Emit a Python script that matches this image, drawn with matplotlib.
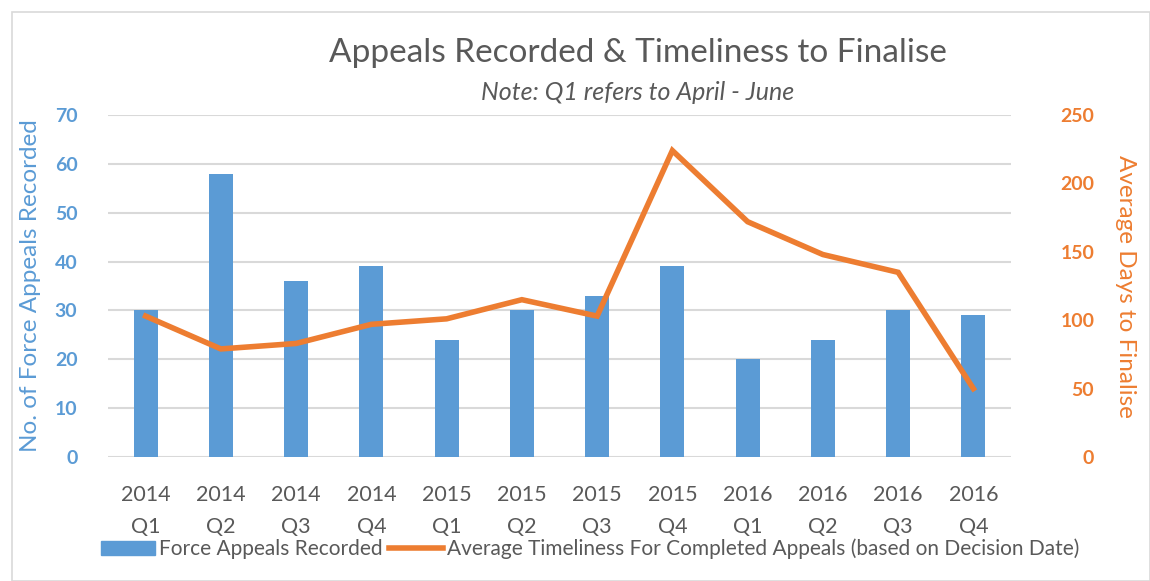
import matplotlib
matplotlib.use("Agg")
import matplotlib.pyplot as plt
from matplotlib.patches import Rectangle
from matplotlib.lines import Line2D
import numpy as np

plt.rcParams['font.family'] = ['Lato', 'DejaVu Sans']

categories = ["2014\nQ1", "2014\nQ2", "2014\nQ3", "2014\nQ4",
              "2015\nQ1", "2015\nQ2", "2015\nQ3", "2015\nQ4",
              "2016\nQ1", "2016\nQ2", "2016\nQ3", "2016\nQ4"]
appeals = [30, 58, 36, 39, 24, 30, 33, 39, 20, 24, 30, 29]
timeliness = [103, 79, 83, 97, 101, 115, 103, 224, 172, 148, 135, 50]

BLUE = "#5B9BD5"
ORANGE = "#ED7D31"
GRAY = "#595959"
GRID = "#D9D9D9"

fig = plt.figure(figsize=(11.5, 5.81), dpi=100)
W, H = 1150, 581
ax = fig.add_axes([108 / W, 1 - 457 / H, (1011 - 108) / W, (457 - 115) / H])

# outer border
fig.patches.append(Rectangle((12 / W, 0), (W - 12) / W, 1 - 12 / H, transform=fig.transFigure,
                             fill=False, edgecolor="#D9D9D9", linewidth=1.2))

x = np.arange(len(categories))
ax.bar(x, appeals, width=0.32, color=BLUE, zorder=2)
ax.set_xlim(-0.5, len(categories) - 0.5)
ax.set_ylim(0, 70)
ax.set_yticks(range(0, 71, 10))
ax.yaxis.grid(True, color=GRID, linewidth=1.5, zorder=0)
ax.set_axisbelow(True)
for s in ax.spines.values():
    s.set_visible(False)
ax.tick_params(axis='both', length=0)
ax.tick_params(axis='y', labelcolor=BLUE, labelsize=14, pad=22)
for t in ax.get_yticklabels():
    t.set_fontweight('bold')
ax.set_xticks(x)
ax.set_xticklabels(categories, color=GRAY, fontsize=15.5, linespacing=1.75)
ax.tick_params(axis='x', pad=20)
ax.set_ylabel("No. of Force Appeals Recorded", color=BLUE, fontsize=17.5, labelpad=10)

ax2 = ax.twinx()
ax2.plot(x, timeliness, color=ORANGE, linewidth=4, solid_joinstyle='miter', zorder=3)
ax2.set_ylim(0, 250)
ax2.set_yticks(range(0, 251, 50))
for s in ax2.spines.values():
    s.set_visible(False)
ax2.tick_params(axis='y', length=0, labelcolor=ORANGE, labelsize=14, pad=60)
for t in ax2.get_yticklabels():
    t.set_fontweight('bold')
    t.set_horizontalalignment('right')
ax2.set_ylabel("Average Days to Finalise", color=ORANGE, fontsize=17.5, rotation=270, labelpad=30)

fig.text(638 / W, 1 - 53 / H, "Appeals Recorded & Timeliness to Finalise", ha='center', va='center',
         fontsize=24, color=GRAY)
fig.text(638 / W, 1 - 93 / H, "Note: Q1 refers to April - June", ha='center', va='center',
         fontsize=18, color=GRAY, style='italic')

handles = [Rectangle((0, 0), 1, 1, color=BLUE),
           Line2D([0], [0], color=ORANGE, linewidth=4)]
labels = ["Force Appeals Recorded", "Average Timeliness For Completed Appeals (based on Decision Date)"]
fig.legend(handles, labels, loc='center', bbox_to_anchor=(590 / W, 1 - 549 / H), ncol=2,
           frameon=False, fontsize=15, labelcolor=GRAY, handlelength=2.6, handletextpad=0.2,
           columnspacing=0.3)

fig.savefig("out.png", dpi=100)
